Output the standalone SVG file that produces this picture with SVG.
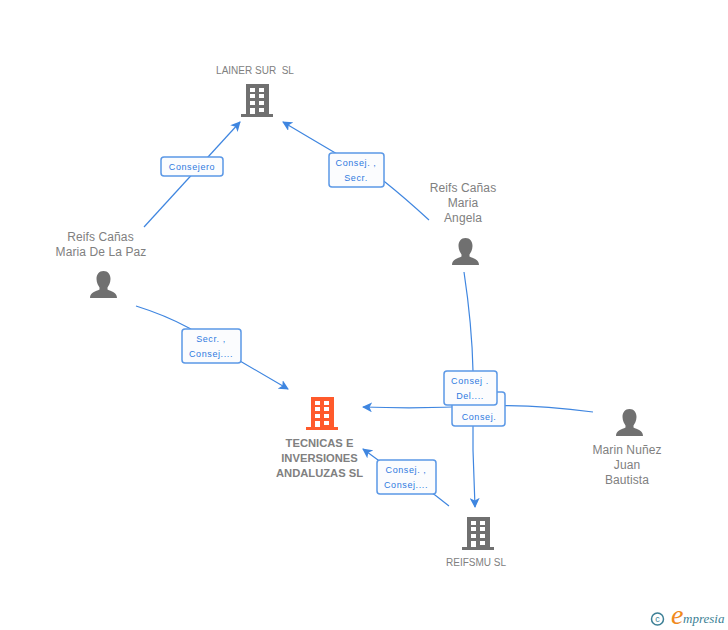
<svg xmlns="http://www.w3.org/2000/svg" width="728" height="630" viewBox="0 0 728 630">
<style>
text{font-family:"Liberation Sans",Arial,sans-serif}
.n{font-size:12px;fill:#808080;text-anchor:middle;letter-spacing:.1px}
.s{font-size:10px;fill:#808080;text-anchor:middle;white-space:pre}
.b{font-size:11.200px;font-weight:bold;fill:#808080;text-anchor:middle}
.e{fill:none;stroke:#3f86e0;stroke-width:1.200}
.lb{fill:#fbfcfe;stroke:#5b98e6;stroke-width:1.500}
.lt{font-size:9px;fill:#2f7ae0;text-anchor:middle;letter-spacing:.6px}
</style>
<defs>
<g id="bld">
<path d="M5 0H28V30H32V33H0V30H5Z"/>
<g fill="#fff"><rect x="9" y="4" width="5" height="4"/><rect x="18" y="4" width="5" height="4"/><rect x="9" y="10" width="5" height="4"/><rect x="18" y="10" width="5" height="4"/><rect x="9" y="17" width="5" height="4"/><rect x="18" y="17" width="5" height="4"/><rect x="9" y="24" width="5" height="6"/><rect x="18" y="24" width="5" height="4"/></g>
</g>
<path id="per" d="M13.500 0C18 0 20.500 3.500 20.500 8C20.500 12 18.500 15 17.500 16.500V18.500C21 20.500 27 21 27 27H0C0 21 6 20.500 9.500 18.500V16.500C8.500 15 6.500 12 6.500 8C6.500 3.500 9 0 13.500 0Z" fill="#707070"/>
<marker id="a" viewBox="0 0 10 10" refX="9" refY="5" markerWidth="10" markerHeight="10" markerUnits="userSpaceOnUse" orient="auto"><path d="M0 0L10 5L0 10L2.500 5Z" fill="#3f86e0"/></marker>
</defs>
<g id="connectors">
<path class="e" marker-end="url(#a)" d="M144 227L240 122"/>
<path class="e" marker-end="url(#a)" d="M429 220Q405 198 385 182Q330 150 283 122"/>
<path class="e" marker-end="url(#a)" d="M136 306Q165 315 189 328L240 361L288 389"/>
<path class="e" marker-end="url(#a)" d="M464 272Q472 325 473 371L473 450Q474 480 475 507"/>
<path class="e" marker-end="url(#a)" d="M593 412Q530 404 480 406Q420 409 363 407"/>
<path class="e" marker-end="url(#a)" d="M449 506L435 495L378 460L363 449"/>
</g>
<g id="edge-labels">
<g><rect class="lb" x="161" y="157" width="62" height="19" rx="3"/><text class="lt" x="192" y="170">Consejero</text></g>
<g><rect class="lb" x="329" y="153" width="55" height="34" rx="3"/><text class="lt" x="356" y="166">Consej. ,</text><text class="lt" x="356" y="181">Secr.</text></g>
<g><rect class="lb" x="182" y="329" width="59" height="34" rx="3"/><text class="lt" x="211" y="342">Secr. ,</text><text class="lt" x="211" y="357">Consej....</text></g>
<g><rect class="lb" x="452" y="392" width="53" height="34" rx="3"/><text class="lt" x="479" y="420">Consej.</text></g>
<g><rect class="lb" x="444" y="371" width="53" height="34" rx="3"/><text class="lt" x="470" y="384">Consej .</text><text class="lt" x="470" y="399">Del....</text></g>
<g><rect class="lb" x="377" y="460" width="59" height="34" rx="3"/><text class="lt" x="406" y="473">Consej. ,</text><text class="lt" x="406" y="488">Consej....</text></g>
</g>
<g id="lainer"><text class="s" x="255" y="74">LAINER SUR  SL</text><use href="#bld" x="241" y="84" fill="#707070"/></g>
<g id="tecnicas"><use href="#bld" x="306" y="397" fill="#ff5a2b"/><text class="b" x="319.500" y="447">TECNICAS E</text><text class="b" x="319.500" y="462">INVERSIONES</text><text class="b" x="319.500" y="477">ANDALUZAS SL</text></g>
<g id="reifsmu"><use href="#bld" x="462" y="517" fill="#707070"/><text class="s" x="476" y="566">REIFSMU SL</text></g>
<g id="paz"><text class="n" x="100.500" y="241">Reifs Cañas</text><text class="n" x="101" y="256">Maria De La Paz</text><use href="#per" x="90" y="271"/></g>
<g id="angela"><text class="n" x="463" y="192">Reifs Cañas</text><text class="n" x="463" y="207">Maria</text><text class="n" x="463" y="222">Angela</text><use href="#per" x="452" y="238"/></g>
<g id="marin"><use href="#per" x="616" y="409"/><text class="n" x="627" y="454">Marin Nuñez</text><text class="n" x="627" y="469">Juan</text><text class="n" x="627" y="484">Bautista</text></g>
<g id="logo"><circle cx="657.500" cy="619" r="6" fill="none" stroke="#3c7f95" stroke-width="1.500"/><text x="657.500" y="622" font-size="9" fill="#3c7f95" text-anchor="middle">c</text><text x="671" y="624" style="font-family:'Liberation Serif',serif" font-size="28" font-style="italic" fill="#f08a1c">e</text><text x="683" y="623" style="font-family:'Liberation Serif',serif" font-size="13" font-style="italic" fill="#3c7f95">mpresia</text></g>
</svg>
